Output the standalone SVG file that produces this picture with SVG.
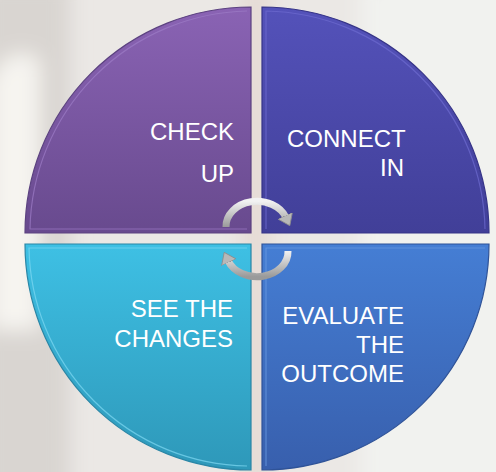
<svg xmlns="http://www.w3.org/2000/svg" width="496" height="472" viewBox="0 0 496 472">
  <defs>
    <style>
      .lbl { font-family: "Liberation Sans", Arial, sans-serif; font-size: 24px; fill: #ffffff; text-anchor: end; }
      .lbl-l { font-family: "Liberation Sans", Arial, sans-serif; font-size: 24px; fill: #ffffff; text-anchor: start; }
      .quad { stroke-width: 1.2; }
      .arc { fill: none; stroke: url(#gArc); stroke-width: 7; stroke-linecap: butt; }
    </style>
    <linearGradient id="gTL" x1="0" y1="0" x2="0" y2="1">
      <stop offset="0" stop-color="#8a63b4"/>
      <stop offset="1" stop-color="#684a8e"/>
    </linearGradient>
    <linearGradient id="gTR" x1="0" y1="0" x2="0" y2="1">
      <stop offset="0" stop-color="#5452ba"/>
      <stop offset="1" stop-color="#413f98"/>
    </linearGradient>
    <linearGradient id="gBL" x1="0" y1="0" x2="0" y2="1">
      <stop offset="0" stop-color="#3ec0e4"/>
      <stop offset="1" stop-color="#2e98b9"/>
    </linearGradient>
    <linearGradient id="gBR" x1="0" y1="0" x2="0" y2="1">
      <stop offset="0" stop-color="#457ed4"/>
      <stop offset="1" stop-color="#385fad"/>
    </linearGradient>
    <linearGradient id="gArc" x1="0" y1="0" x2="0" y2="1">
      <stop offset="0" stop-color="#f2f2f2"/>
      <stop offset="1" stop-color="#9a9a9a"/>
    </linearGradient>
    <marker id="ah" markerUnits="userSpaceOnUse" markerWidth="14" markerHeight="16" refX="2" refY="8" orient="auto">
      <path d="M0,0 L11,8 L0,16 Z" fill="#b8b8b8" stroke="#8c8c8c" stroke-width="0.8"/>
    </marker>
    <filter id="blur" x="-50%" y="-50%" width="200%" height="200%">
      <feGaussianBlur stdDeviation="10"/>
    </filter>
  </defs>

  <!-- faded background -->
  <rect x="0" y="0" width="496" height="472" fill="#ebe8e5"/>
  <g filter="url(#blur)">
    <rect x="-20" y="-20" width="90" height="520" fill="#d9d5d1"/>
    <path d="M-10,330 L-10,80 Q10,40 40,60 L40,330 Z" fill="#f6f4f0"/>
    <rect x="360" y="-20" width="160" height="520" fill="#f1f2ef"/>
    <rect x="240" y="-20" width="32" height="520" fill="#e6dcd6"/>
  </g>

  <g id="check-up">
    <path class="quad" d="M251,233 L25,233 A226,226 0 0 1 251,7 Z" fill="url(#gTL)" stroke="#5c4280"/>
    <path d="M247,229 L30,229 A222,222 0 0 1 247,11" fill="none" stroke="#9d7cc6" stroke-width="1.2" opacity="0.7"/>
    <text class="lbl" x="234" y="140">CHECK</text>
    <text class="lbl" x="234" y="182">UP</text>
  </g>

  <g id="connect-in">
    <path class="quad" d="M262,233 L262,7 A227,226 0 0 1 489,233 Z" fill="url(#gTR)" stroke="#363488"/>
    <path d="M266,229 L266,11 A223,222 0 0 1 485,229" fill="none" stroke="#6d6bd0" stroke-width="1.2" opacity="0.7"/>
    <text class="lbl-l" x="287" y="147">CONNECT</text>
    <text class="lbl" x="404" y="176">IN</text>
  </g>

  <g id="see-the-changes">
    <path class="quad" d="M251,244 L251,470 A226,226 0 0 1 25,244 Z" fill="url(#gBL)" stroke="#2a86a6"/>
    <path d="M247,248 L29,248 A222,222 0 0 0 247,466" fill="none" stroke="#7fd8f2" stroke-width="1.2" opacity="0.7"/>
    <text class="lbl" x="233" y="317">SEE THE</text>
    <text class="lbl" x="233" y="347">CHANGES</text>
  </g>

  <g id="evaluate-the-outcome">
    <path class="quad" d="M262,244 L489,244 A227,226 0 0 1 262,470 Z" fill="url(#gBR)" stroke="#2f5398"/>
    <path d="M266,466 L266,248 L485,248" fill="none" stroke="#6a9ae0" stroke-width="1.2" opacity="0.7"/>
    <text class="lbl" x="404" y="324">EVALUATE</text>
    <text class="lbl" x="404" y="353">THE</text>
    <text class="lbl" x="404" y="382">OUTCOME</text>
  </g>

  <g id="connectors">
    <path class="arc" d="M226,227 A31,25 0 0 1 286,217.5" marker-end="url(#ah)"/>
    <path class="arc" d="M288,251 A31,25 0 0 1 228,260.5" marker-end="url(#ah)"/>
  </g>
</svg>
